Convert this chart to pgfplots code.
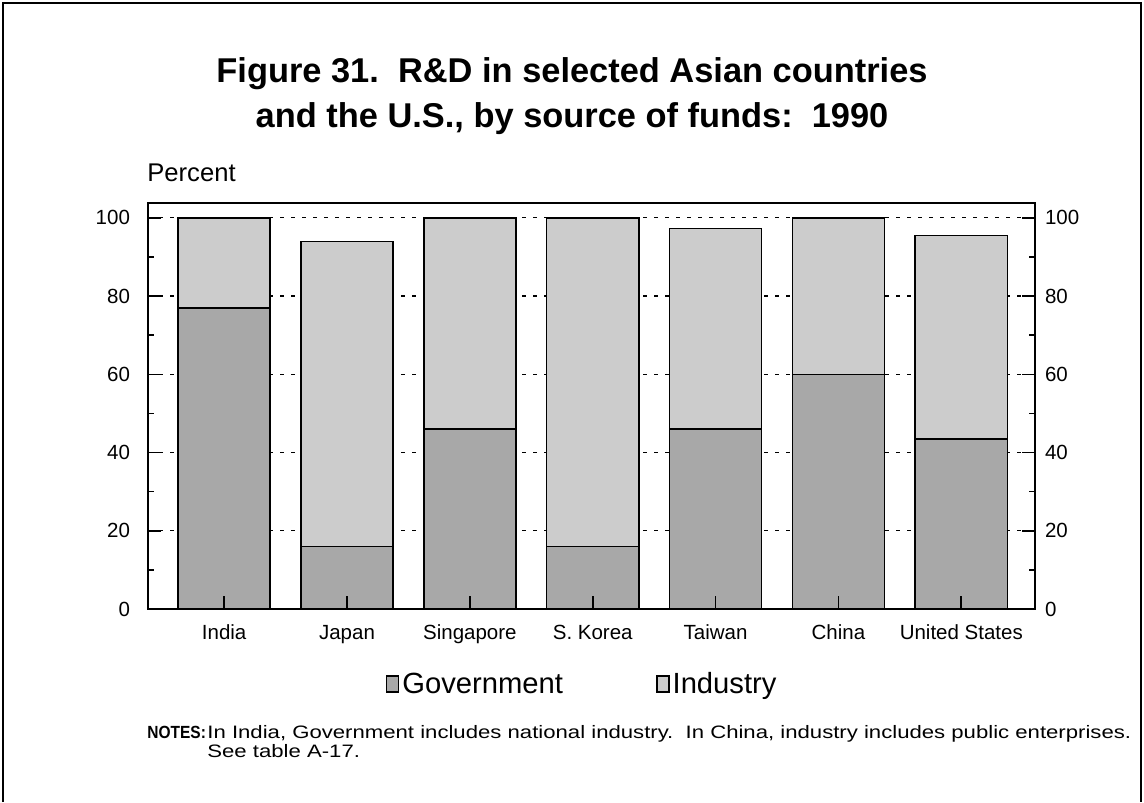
\documentclass[border=0pt]{standalone}
\usepackage{fontspec}
\setmainfont{Liberation Sans}
\usepackage{pgfplots}
\pgfplotsset{compat=1.18}

\tikzset{
 gov/.style={fill=black!34, draw=black, line width=0.8pt},
 ind/.style={fill=black!20, draw=black, line width=0.8pt},
 legbox/.style={legend image code/.code={\draw[##1, line width=0.6pt] (0pt,-6pt) rectangle (7.5pt,5pt);}},
}

\pgfplotstableread{
x gov ind
0 77 23
1 16 78
2 46 54
3 16 84
4 46 51.3
5 60 40
6 43.5 52
}\rdtable

\begin{document}
\begin{tikzpicture}[x=1pt,y=1pt]
\useasboundingbox (0,0) rectangle (572,401);
\draw[line width=0.8pt] (1.5,0) -- (1.5,399.5) -- (570.5,399.5) -- (570.5,0);

\node[anchor=base, font=\fontsize{17.2}{20}\selectfont\bfseries] at (286,359.5) {Figure 31.\ \ R\&D in selected Asian countries};
\node[anchor=base, font=\fontsize{17.2}{20}\selectfont\bfseries] at (286,337) {and the U.S., by source of funds:\ \ 1990};
\node[anchor=base west, inner sep=0pt, font=\fontsize{12.8}{15}\selectfont] at (73.5,310) {Percent};

% grid axis (behind)
\begin{axis}[
  at={(74pt,96.5pt)}, anchor=south west, scale only axis,
  width=443.5pt, height=203pt,
  xmin=-0.62, xmax=6.6, ymin=0, ymax=103.8,
  axis line style={draw=none},
  xtick=\empty, ytick={0,20,...,100},
  ymajorgrids, grid style={black, line width=0.6pt, dash pattern=on 2pt off 3.5pt},
  major tick length=0pt,
  ytick pos=right, yticklabel pos=right,
  /pgf/number format/assume math mode=true,
  yticklabel style={font=\fontsize{10.25}{12}\selectfont, xshift=1.5pt},
]
\end{axis}

\begin{axis}[
  at={(74pt,96.5pt)}, anchor=south west, scale only axis,
  width=443.5pt, height=203pt,
  xmin=-0.62, xmax=6.6, ymin=0, ymax=103.8,
  ybar stacked, bar width=0.75,
  axis on top,
  axis line style={line width=0.8pt},
  xtick={0,...,6},
  xticklabels={India,Japan,Singapore,S. Korea,Taiwan,China,United States},
  xtick pos=left,
  ytick={0,20,...,100}, minor y tick num=1,
  ytick pos=both, yticklabel pos=left,
  tick align=inside,
  major tick length=6.5pt, minor tick length=3pt,
  tick style={black, line width=0.8pt},
  /pgf/number format/assume math mode=true,
  yticklabel style={font=\fontsize{10.25}{12}\selectfont, xshift=-5.5pt},
  xticklabel style={font=\fontsize{10.25}{12}\selectfont, yshift=-4.5pt},
  legend columns=2,
  legend style={at={(0.49,-0.195)}, anchor=center, draw=none, fill=none,
    font=\fontsize{14.6}{17}\selectfont,
    nodes={inner xsep=1.5pt, text height=1.6ex, text depth=0.5ex},
    /tikz/every even column/.append style={column sep=45pt}},
  legend cell align=left,
]
\addplot[gov, legbox] table[x=x, y=gov] {\rdtable};
\addplot[ind, legbox] table[x=x, y=ind] {\rdtable};
\legend{Government, Industry}
\end{axis}

\node[anchor=base west, inner sep=0pt, font=\fontsize{8.8}{10}\selectfont] at (73.5,31.5) {\scalebox{0.88}[1]{\textbf{NOTES:}}};
\node[anchor=base west, inner sep=0pt, font=\fontsize{9}{10}\selectfont] at (103.5,31.5) {\scalebox{1.23}[1]{In India, Government includes national industry.\ \ In China, industry includes public enterprises.}};
\node[anchor=base west, inner sep=0pt, font=\fontsize{9}{10}\selectfont] at (103.5,22) {\scalebox{1.23}[1]{See table A-17.}};
\end{tikzpicture}
\end{document}
